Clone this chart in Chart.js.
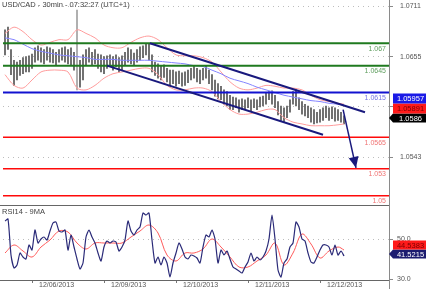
<!DOCTYPE html>
<html>
<head>
<meta charset="utf-8">
<script src="https://cdn.jsdelivr.net/npm/chart.js@4.4.0/dist/chart.umd.min.js"></script>
<style>
  html, body { margin: 0; padding: 0; background: #fff; }
  #wrap { position: relative; width: 426px; height: 289px; overflow: hidden; }
  #priceBox { position: absolute; left: 0; top: 0; width: 426px; height: 205px; }
  #rsiBox { position: absolute; left: 0; top: 205px; width: 426px; height: 84px; }
</style>
</head>
<body>
<div id="wrap">
  <div id="priceBox"><canvas id="priceChart"></canvas></div>
  <div id="rsiBox"><canvas id="rsiChart"></canvas></div>
</div>
<script>
// USD/CAD 30min - price panel + RSI panel

const chartTitle = 'USD/CAD - 30min - 07:32:27 (UTC+1)';
const rsiTitle = 'RSI14 - 9MA';

// bar highs / lows (one bar = 1 hour step on the x axis)
const barHigh = [1.0685,1.0688,1.0663,1.0651,1.0649,1.0651,1.0654,1.0655,1.0656,1.0658,
  1.0665,1.0667,1.0665,1.0663,1.0666,1.0665,1.0663,1.0660,1.0663,1.0665,
  1.0666,1.0663,1.0665,1.0660,1.0707,1.0651,1.0657,1.0663,1.0665,1.0660,
  1.0663,1.0658,1.0657,1.0655,1.0656,1.0657,1.0655,1.0657,1.0654,1.0656,
  1.0660,1.0665,1.0663,1.0659,1.0663,1.0666,1.0667,1.0669,1.0669,1.0657,
  1.0649,1.0647,1.0645,1.0646,1.0642,1.0640,1.0640,1.0638,1.0639,1.0637,
  1.0638,1.0640,1.0642,1.0645,1.0642,1.0640,1.0642,1.0645,1.0640,1.0635,
  1.0629,1.0625,1.0622,1.0618,1.0616,1.0612,1.0610,1.0609,1.0607,1.0608,
  1.0607,1.0609,1.0607,1.0608,1.0607,1.0610,1.0611,1.0615,1.0616,1.0617,
  1.0612,1.0605,1.0600,1.0598,1.0600,1.0607,1.0616,1.0618,1.0609,1.0605,
  1.0602,1.0600,1.0598,1.0596,1.0593,1.0596,1.0598,1.0600,1.0598,1.0599,
  1.0598,1.0596,1.0593,1.0589];
const barLow = [1.0657,1.0663,1.0635,1.0623,1.0629,1.0634,1.0636,1.0638,1.0638,1.0642,
  1.0649,1.0651,1.0649,1.0647,1.0651,1.0649,1.0648,1.0645,1.0649,1.0651,
  1.0649,1.0647,1.0645,1.0640,1.0618,1.0621,1.0629,1.0646,1.0649,1.0645,
  1.0647,1.0642,1.0638,1.0636,1.0642,1.0645,1.0640,1.0644,1.0638,1.0640,
  1.0645,1.0649,1.0647,1.0645,1.0649,1.0651,1.0654,1.0657,1.0651,1.0638,
  1.0634,1.0631,1.0629,1.0632,1.0627,1.0623,1.0625,1.0622,1.0625,1.0622,
  1.0623,1.0626,1.0629,1.0631,1.0627,1.0625,1.0629,1.0631,1.0625,1.0618,
  1.0611,1.0608,1.0607,1.0602,1.0600,1.0596,1.0596,1.0598,1.0593,1.0596,
  1.0596,1.0598,1.0594,1.0598,1.0596,1.0599,1.0600,1.0602,1.0607,1.0602,
  1.0598,1.0590,1.0584,1.0582,1.0587,1.0593,1.0602,1.0600,1.0596,1.0591,
  1.0589,1.0587,1.0582,1.0580,1.0581,1.0582,1.0584,1.0587,1.0584,1.0586,
  1.0583,1.0584,1.0582,1.0580];

// indicators, sampled every SAMPLE_STEP bars
const SAMPLE_STEP = 3;
const bbUpper = [1.0681,1.0688,1.0683,1.0674,1.0668,1.0671,1.0674,1.0674,1.0685,1.0681,
  1.0676,1.0668,1.0665,1.0665,1.0671,1.0676,1.0678,1.0674,1.0665,1.0657,
  1.0656,1.0656,1.0654,1.0649,1.0638,1.0627,1.0620,1.0618,1.0620,1.0623,
  1.0622,1.0620,1.0620,1.0618,1.0612,1.0607,1.0605,1.0603,1.0602];
const bbLower = [1.0635,1.0623,1.0620,1.0629,1.0638,1.0640,1.0640,1.0638,1.0620,1.0618,
  1.0623,1.0631,1.0636,1.0638,1.0640,1.0642,1.0642,1.0635,1.0623,1.0618,
  1.0618,1.0620,1.0620,1.0616,1.0605,1.0596,1.0591,1.0591,1.0593,1.0596,
  1.0596,1.0587,1.0582,1.0580,1.0578,1.0578,1.0578,1.0579,1.0580];
const maLine = [1.0676,1.0674,1.0669,1.0664,1.0661,1.0659,1.0657,1.0656,1.0655,1.0654,
  1.0652,1.0652,1.0652,1.0651,1.0651,1.0651,1.0651,1.0650,1.0649,1.0648,
  1.0647,1.0645,1.0644,1.0640,1.0636,1.0631,1.0628,1.0625,1.0621,1.0618,
  1.0615,1.0612,1.0610,1.0608,1.0606,1.0605,1.0603,1.0602,1.0601];

// RSI14 per bar and its 9MA (sampled)
const rsiValues = [59,60,42,35.5,37,43,41,40,47,44.5,
  54.5,48,50,51,49.5,54,58,58.5,54,53.5,
  54.5,44.5,52,46,40,35,38,51,54.5,51,
  48,43,39,46,49,48,49,48.5,44,46,
  49.5,59,54,52,54.5,56,63,62,63,49.5,
  38,41,37,41,38,31,38,43,48,45,
  41,40,42,41.5,40.5,38,46,52,51,54.5,
  50,38,44.5,42,44,40,36,35,34,33,
  36,38.5,43,39,41,39.5,41,44,50,62,
  50,34.5,31,38,40,46,48,58.5,56,50,
  49,43,38.5,38,41,44.5,47,47,46,42,
  47,42,44,41.5];
const rsiMa = [43,47,44,41,46,49.5,54,53.5,48,45,
  48,48,48,48,51,54,57,53,42,39,
  43,43,45,50,46,41,36,36,39,42,
  48,37,43,52.5,47.5,40.5,44,46,44.5];

// horizontal support / resistance levels
const levelValues = [1.067, 1.0645, 1.0615, 1.0565, 1.053, 1.05];
// channel lines and projection arrow: [bar index, price]
const upperChannel = [[48.3, 1.0670], [120, 1.0593]];
const lowerChannel = [[34, 1.0645], [106, 1.0568]];
const forecastArrow = [[112.7, 1.0596], [117, 1.0531]];

// axis ticks
const priceTicks = [1.0543, 1.0599, 1.0655, 1.0711];
const rsiTicks = [30, 50];
const dateTickIdx = [9, 33, 57, 81, 105];
const dateLabels = ['12/06/2013', '12/09/2013', '12/10/2013', '12/11/2013', '12/12/2013'];

// right side tags
const lastPrice = 1.0586;
const maTagValue = 1.05957;
const bbTagValue = 1.05891;
const rsiLast = 41.5215;
const rsiMaLast = 44.5383;

// ---- styles ----
const FONT = '"Liberation Sans", Arial, sans-serif';
const X_MIN = -2 / 3, X_MAX = 128;
const levelStyles = [
  { line: '#1f7a1f', text: '#5e9e5e', width: 2 },
  { line: '#1f7a1f', text: '#5e9e5e', width: 2 },
  { line: '#1212d0', text: '#7474e4', width: 2 },
  { line: '#ff0a0a', text: '#f07474', width: 1.5 },
  { line: '#ff0a0a', text: '#f07474', width: 1.5 },
  { line: '#ff0a0a', text: '#f07474', width: 1.5 }
];
const NAVY = '#19197d';

Chart.defaults.font.family = FONT;
Chart.defaults.animation = false;

const N = barHigh.length;
const sampled = arr => arr.map((v, k) => ({ x: Math.min(k * SAMPLE_STEP, N - 1), y: v }));
const toPoints = arr => arr.map(p => ({ x: p[0], y: p[1] }));

function zeroPadding(scale) {
  scale.paddingTop = 0; scale.paddingBottom = 0;
  scale.paddingLeft = 0; scale.paddingRight = 0;
}

// small tag on the right price axis
function drawTag(ctx, yc, h, text, fill, color, pointer) {
  const x0 = 393, x1 = 426;
  ctx.fillStyle = fill;
  ctx.beginPath();
  if (pointer) {
    ctx.moveTo(389, yc);
    ctx.lineTo(x0, yc - h / 2);
  } else {
    ctx.moveTo(x0, yc - h / 2);
  }
  ctx.lineTo(x1, yc - h / 2);
  ctx.lineTo(x1, yc + h / 2);
  ctx.lineTo(x0, yc + h / 2);
  ctx.closePath();
  ctx.fill();
  ctx.fillStyle = color;
  ctx.font = '7.5px ' + FONT;
  ctx.textAlign = 'center';
  ctx.textBaseline = 'middle';
  ctx.fillText(text, (x0 + x1) / 2 + 1, yc + 0.5);
}

const priceOverlay = {
  id: 'priceOverlay',
  afterDraw(chart) {
    const { ctx, chartArea, scales } = chart;
    const ys = scales.y;
    ctx.save();

    // right axis line
    ctx.strokeStyle = '#8a8a8a';
    ctx.lineWidth = 1;
    ctx.beginPath();
    ctx.moveTo(chartArea.right + 0.5, 0);
    ctx.lineTo(chartArea.right + 0.5, chart.height);
    ctx.stroke();

    // title
    ctx.font = '7.5px ' + FONT;
    ctx.fillStyle = '#444';
    ctx.textAlign = 'left';
    ctx.textBaseline = 'middle';
    ctx.fillText(chartTitle, 2, 5);

    // level labels
    ctx.font = '7px ' + FONT;
    ctx.textAlign = 'right';
    levelValues.forEach((v, j) => {
      ctx.fillStyle = levelStyles[j].text;
      ctx.fillText(String(v), chartArea.right - 3, ys.getPixelForValue(v) + 5.5);
    });

    // arrow head at the end of the projection line
    const arrowMeta = chart.data.datasets.findIndex(d => d.id === 'arrow');
    const pts = chart.getDatasetMeta(arrowMeta).data;
    const a = pts[pts.length - 2], b = pts[pts.length - 1];
    const ang = Math.atan2(b.y - a.y, b.x - a.x);
    const len = 11, half = 5;
    ctx.fillStyle = NAVY;
    ctx.beginPath();
    ctx.moveTo(b.x, b.y);
    ctx.lineTo(b.x - len * Math.cos(ang) + half * Math.sin(ang), b.y - len * Math.sin(ang) - half * Math.cos(ang));
    ctx.lineTo(b.x - len * Math.cos(ang) - half * Math.sin(ang), b.y - len * Math.sin(ang) + half * Math.cos(ang));
    ctx.closePath();
    ctx.fill();

    // price tags
    const lastY = ys.getPixelForValue(lastPrice) - 0.5;
    drawTag(ctx, lastY, 9, lastPrice.toFixed(4), '#000', '#fff', true);
    drawTag(ctx, lastY - 9.5, 10, bbTagValue.toFixed(5), '#ff1a1a', '#7a0000', false);
    drawTag(ctx, lastY - 19.5, 10, maTagValue.toFixed(5), '#1a1ae6', '#fff', false);

    ctx.restore();
  }
};

const rsiOverlay = {
  id: 'rsiOverlay',
  afterDraw(chart) {
    const { ctx, chartArea, scales } = chart;
    const ys = scales.y;
    ctx.save();
    ctx.strokeStyle = '#666';
    ctx.lineWidth = 1;
    ctx.beginPath();
    ctx.moveTo(0, 0.5);
    ctx.lineTo(chartArea.right, 0.5);
    ctx.moveTo(0, chartArea.bottom + 0.5);
    ctx.lineTo(chartArea.right, chartArea.bottom + 0.5);
    ctx.stroke();
    ctx.strokeStyle = '#8a8a8a';
    ctx.beginPath();
    ctx.moveTo(chartArea.right + 0.5, 0);
    ctx.lineTo(chartArea.right + 0.5, chart.height);
    ctx.stroke();

    ctx.font = '7.5px ' + FONT;
    ctx.fillStyle = '#444';
    ctx.textAlign = 'left';
    ctx.textBaseline = 'middle';
    ctx.fillText(rsiTitle, 2, 6.5);

    const rY = ys.getPixelForValue(rsiLast) - 2;
    drawTag(ctx, rY, 9, rsiLast.toFixed(4), '#1c1c70', '#fff', true);
    drawTag(ctx, rY - 9, 9, rsiMaLast.toFixed(4), '#ff1a1a', '#7a0000', false);
    ctx.restore();
  }
};

// ---- price chart ----
const datasets = [];
datasets.push({
  type: 'bar',
  data: barHigh.map((h, i) => ({ x: i, y: [barLow[i], h] })),
  // the lone spike bar is drawn lighter, like in the terminal
  backgroundColor: c => (c.raw && c.raw.y[1] - c.raw.y[0] > 0.005 ? '#a0a0a0' : '#555555'),
  barThickness: 1,
  grouped: false,
  order: 6
});
datasets.push({ type: 'line', data: sampled(bbUpper), borderColor: '#ff9c9c', borderWidth: 1, pointRadius: 0, tension: 0.3, order: 5 });
datasets.push({ type: 'line', data: sampled(bbLower), borderColor: '#ff9c9c', borderWidth: 1, pointRadius: 0, tension: 0.3, order: 5 });
datasets.push({ type: 'line', data: sampled(maLine), borderColor: '#8484ff', borderWidth: 1, pointRadius: 0, tension: 0.3, order: 4 });
levelValues.forEach((v, j) => {
  datasets.push({
    type: 'line',
    data: [{ x: X_MIN, y: v }, { x: X_MAX, y: v }],
    borderColor: levelStyles[j].line,
    borderWidth: levelStyles[j].width,
    pointRadius: 0,
    order: 2
  });
});
datasets.push({ type: 'line', data: toPoints(upperChannel), borderColor: NAVY, borderWidth: 2, pointRadius: 0, order: 1 });
datasets.push({ type: 'line', data: toPoints(lowerChannel), borderColor: NAVY, borderWidth: 2, pointRadius: 0, order: 1 });
datasets.push({ id: 'arrow', type: 'line', data: toPoints(forecastArrow), borderColor: NAVY, borderWidth: 1.5, pointRadius: 0, order: 1 });

new Chart(document.getElementById('priceChart'), {
  type: 'bar',
  data: { datasets: datasets },
  options: {
    responsive: true,
    maintainAspectRatio: false,
    devicePixelRatio: 1,
    layout: { padding: { left: 3, right: 0, top: 0, bottom: 0 }, autoPadding: false },
    plugins: { legend: { display: false }, tooltip: { enabled: false } },
    scales: {
      x: { type: 'linear', min: X_MIN, max: X_MAX, offset: false, display: false },
      y: {
        position: 'right',
        min: 1.048956,
        max: 1.071825,
        afterBuildTicks: s => { s.ticks = priceTicks.map(v => ({ value: v })); },
        afterFit: s => { s.width = 37; zeroPadding(s); },
        ticks: {
          callback: v => Number(v).toFixed(4),
          color: '#555',
          font: { size: 7, family: FONT },
          padding: 7,
          autoSkip: false
        },
        grid: { color: '#bdbdbd', tickColor: '#8a8a8a', tickLength: 4, tickBorderDash: [] },
        border: { display: false, dash: [1, 4] }
      }
    }
  },
  plugins: [priceOverlay]
});

// ---- RSI chart ----
new Chart(document.getElementById('rsiChart'), {
  type: 'line',
  data: {
    datasets: [
      { data: sampled(rsiMa), borderColor: '#ff5a5a', borderWidth: 1, pointRadius: 0, tension: 0.35, order: 2 },
      { data: rsiValues.map((v, i) => ({ x: i, y: v })), borderColor: '#2a2a78', borderWidth: 1.2, pointRadius: 0, tension: 0.2, order: 1 }
    ]
  },
  options: {
    responsive: true,
    maintainAspectRatio: false,
    devicePixelRatio: 1,
    layout: { padding: { left: 3, right: 0, top: 0, bottom: 0 }, autoPadding: false },
    plugins: { legend: { display: false }, tooltip: { enabled: false } },
    scales: {
      x: {
        type: 'linear',
        min: X_MIN,
        max: X_MAX,
        offset: false,
        afterBuildTicks: s => { s.ticks = dateTickIdx.map(v => ({ value: v })); },
        afterFit: s => { s.height = 9; zeroPadding(s); },
        ticks: {
          callback: v => dateLabels[dateTickIdx.indexOf(v)],
          align: 'start',
          labelOffset: 7,
          padding: -2,
          maxRotation: 0,
          autoSkip: false,
          color: '#555',
          font: { size: 7, family: FONT }
        },
        grid: { drawOnChartArea: false, tickColor: '#777', tickLength: 3 },
        border: { display: false }
      },
      y: {
        position: 'right',
        min: 29.5,
        max: 67,
        afterBuildTicks: s => { s.ticks = rsiTicks.map(v => ({ value: v })); },
        afterFit: s => { s.width = 37; zeroPadding(s); },
        ticks: {
          callback: v => Number(v).toFixed(1),
          color: '#555',
          font: { size: 7, family: FONT },
          padding: 4,
          autoSkip: false
        },
        grid: {
          color: ctx => (ctx.tick && ctx.tick.value === 50 ? '#bdbdbd' : 'rgba(0,0,0,0)'),
          tickColor: '#8a8a8a',
          tickLength: 4,
          tickBorderDash: []
        },
        border: { display: false, dash: [1, 4] }
      }
    }
  },
  plugins: [rsiOverlay]
});
</script>
</body>
</html>
